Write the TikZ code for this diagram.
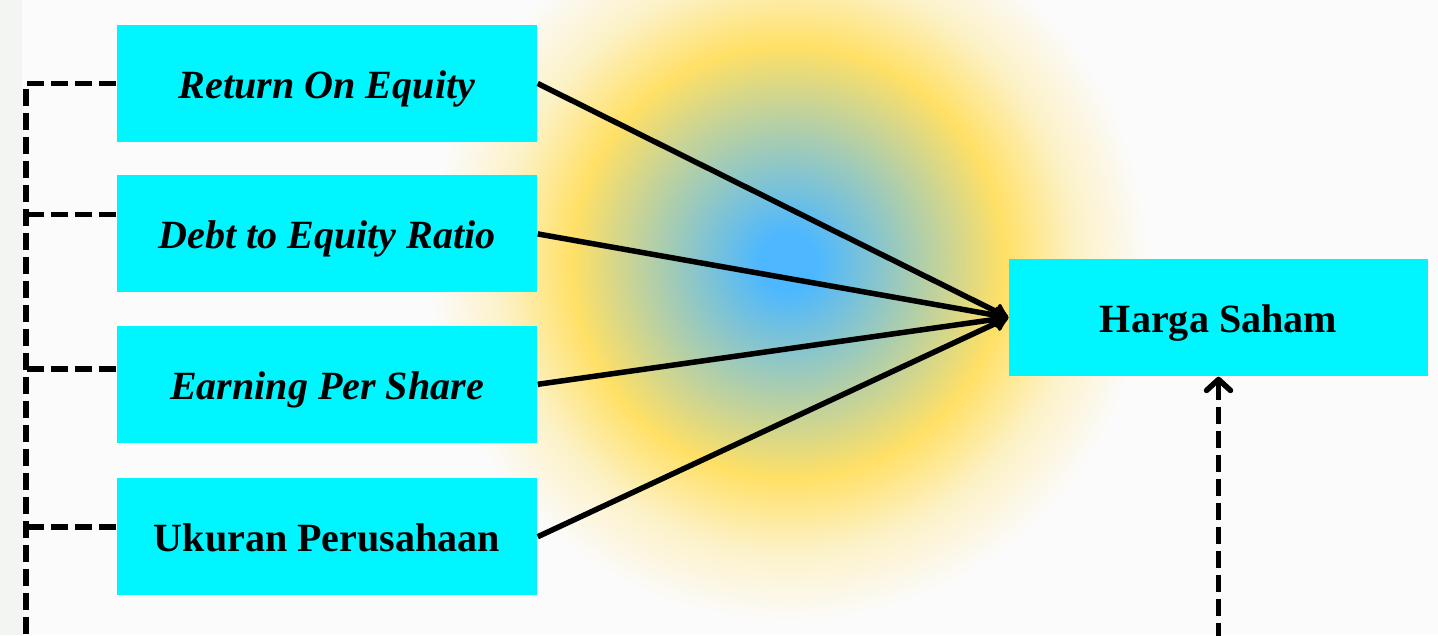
\documentclass[tikz,border=0pt]{standalone}
\usepackage{fontspec}
\setmainfont{Liberation Serif}
\usetikzlibrary{arrows.meta,positioning}
\definecolor{boxcyan}{HTML}{00F6FF}
\definecolor{glowblue}{HTML}{4DB8FF}
\definecolor{glowyellow}{HTML}{FFE066}
\definecolor{paper}{HTML}{FBFBFB}
\definecolor{strip}{HTML}{F3F5F3}
\colorlet{glowfade}{glowyellow!35!paper}
\pgfdeclareradialshading{glow}{\pgfpoint{0bp}{0bp}}{color(0bp)=(glowblue); color(2bp)=(glowblue); color(15bp)=(glowyellow); color(20bp)=(glowfade); color(25bp)=(paper); color(50bp)=(paper)}

\begin{document}
\begin{tikzpicture}[node distance=0.34cm,
  var/.style={fill=boxcyan,minimum width=4.2cm,minimum height=1.17cm,inner sep=0pt,text height=0.3cm,text depth=0pt,font=\fontsize{11.4}{13}\selectfont\bfseries},
  ivar/.style={var,font=\fontsize{11.4}{13}\selectfont\bfseries\itshape},
  effect/.style={line width=0.055cm,-{Latex[round,length=0.17cm,width=0.22cm]}},
  link/.style={line width=0.055cm,dash pattern=on 0.17cm off 0.07cm}]
\useasboundingbox (0,0) rectangle (14.38,-6.35);
\fill[paper] (0,0) rectangle (14.38,-6.35);
\fill[strip] (0,0) rectangle (0.22,-6.35);
\shade[shading=glow] (7.88,-2.62) circle (3.6cm);

\node[ivar] (roe) at (3.27,-0.835) {Return On Equity};
\node[ivar,below=0.32cm of roe] (der) {Debt to Equity Ratio};
\node[ivar,below=0.32cm of der] (eps) {Earning Per Share};
\node[var,below=0.34cm of eps] (size) {Ukuran Perusahaan};
\node[var,minimum width=4.19cm] (hs) at (12.185,-3.175) {Harga Saham};

\foreach \n in {roe,der,eps,size}
  \draw[effect] (\n.east) -- (hs.west);

% control line
\coordinate (lb) at (0.26,-6.4);
\draw[link] (roe.west) -| (lb);
\draw[link] ([yshift=0.195cm]der.west) -- ([yshift=0.195cm]der.west -| lb);
\draw[link] ([yshift=0.155cm]eps.west) -- ([yshift=0.155cm]eps.west -| lb);
\draw[link] ([yshift=0.095cm]size.west) -- ([yshift=0.095cm]size.west -| lb);
\coordinate (rb) at (hs.south |- lb);
\draw[link,-{Straight Barb[round,length=0.11cm,width=0.24cm]}] (rb) -- (hs.south);
\end{tikzpicture}
\end{document}
